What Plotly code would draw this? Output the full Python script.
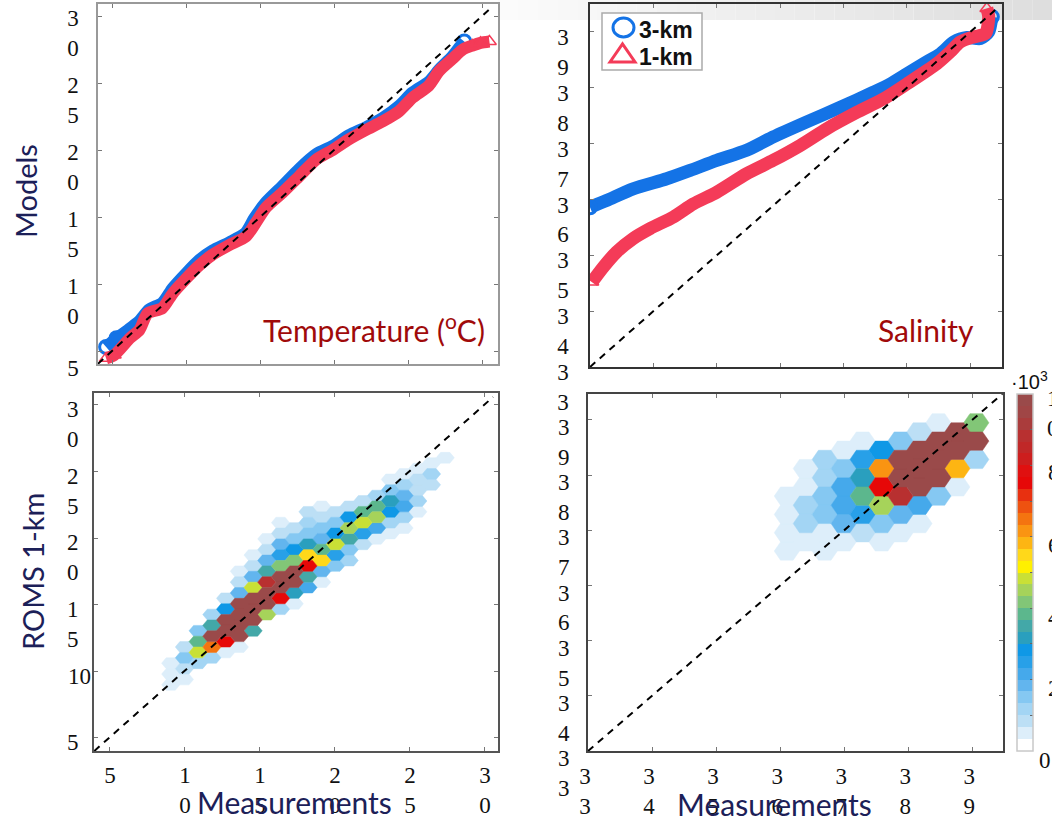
import plotly.graph_objects as go

W, H = 1052, 819

# --- QQ curves, temperature panel
temp_3km_x = [4.6, 5.3, 6.05, 6.85, 7.5, 8.4, 9.1, 10, 10.9, 11.8, 12.9, 14, 14.6, 15.4, 16.5, 17.65, 18.8, 19.9, 21, 22.15, 23.3, 24.4, 25.3, 26.4, 27.1, 28, 28.5, 28.8]
temp_3km_y = [5.3, 5.95, 6.55, 7.25, 8.1, 8.6, 9.7, 10.8, 11.8, 12.5, 13.1, 13.8, 14.9, 16.1, 17.3, 18.6, 19.7, 20.3, 21.1, 21.7, 22.4, 23.3, 24.3, 25.1, 26, 27, 27.7, 28.1]
temp_1km_x = [4.6, 5.15, 6.2, 6.85, 7.4, 8.4, 9.1, 10, 10.9, 11.8, 12.9, 14.05, 14.7, 15.4, 16.5, 17.65, 18.8, 19.9, 21, 22.15, 23.3, 24.4, 25.3, 26.4, 27.1, 28, 28.7, 29.35, 29.9, 30.5]
temp_1km_y = [4.45, 4.7, 5.95, 6.57, 7.8, 8.2, 9.3, 10.4, 11.4, 12.2, 12.9, 13.55, 14.55, 15.7, 16.8, 18.05, 19.3, 20, 20.8, 21.5, 22.15, 22.9, 23.9, 24.8, 25.9, 26.8, 27.5, 27.8, 28, 28.1]

# --- QQ curves, salinity panel
sal_3km_x = [33, 33.26, 33.68, 34.21, 34.58, 35, 35.47, 35.89, 36.42, 36.95, 37.47, 37.74, 38, 38.26, 38.53, 38.74, 38.95, 39.16, 39.29, 39.34]
sal_3km_y = [35.86, 35.98, 36.19, 36.37, 36.52, 36.7, 36.88, 37.12, 37.39, 37.65, 37.92, 38.07, 38.25, 38.43, 38.61, 38.82, 38.9, 38.88, 39, 39.27]
sal_1km_x = [33.03, 33.21, 33.42, 33.68, 33.95, 34.32, 34.63, 35, 35.47, 35.89, 36.32, 36.74, 37.21, 37.63, 38, 38.47, 38.68, 38.84, 39.05, 39.24, 39.29, 39.26]
sal_1km_y = [34.52, 34.79, 35.06, 35.3, 35.48, 35.69, 35.92, 36.13, 36.46, 36.7, 36.97, 37.27, 37.56, 37.8, 38.07, 38.43, 38.64, 38.82, 38.91, 38.97, 39.27, 39.42]

# --- hexbin cells, temperature: column, half-row, count (10^3)
hex_t_col = [0,0,0, 1,1,1,1, 2,2,2,2, 3,3,3,3,3, 4,4,4,4,4,4,
             5,5,5,5,5,5,5,5, 6,6,6,6,6,6,6,6, 7,7,7,7,7,7,7,7,
             8,8,8,8,8,8,8,8,8, 9,9,9,9,9,9,9,9, 10,10,10,10,10,10,10,10,
             11,11,11,11,11,11,11,11, 12,12,12,12,12,12, 13,13,13,13,13,13,
             14,14,14,14,14, 15,15,15,15,15, 16,16,16,16,16,16,
             17,17,17,17,17,17, 18,18,18,18,18, 19,19,19, 20]
hex_t_row = [4,2,0, 7,5,3,1, 10,8,6,4, 13,11,9,7,5, 16,14,12,10,8,6,
             21,19,17,15,13,11,9,7, 24,22,20,18,16,14,12,10, 27,25,23,21,19,17,15,13,
             30,28,26,24,22,20,18,16,14, 29,27,25,23,21,19,17,15, 32,30,28,26,24,22,20,18,
             33,31,29,27,25,23,21,19, 32,30,28,26,24,22, 33,31,29,27,25,23,
             34,32,30,28,26, 35,33,31,29,27, 38,36,34,32,30,28,
             39,37,35,33,31,29, 40,38,36,34,32, 41,39,37, 42]
hex_t_val = [.5,.5,.5, .8,1.5,.8,.5, 1.5,3.8,4.8,1.2, 1.2,3.5,9.9,6.5,1.2, .8,2.8,9.9,9.9,7.5,.5,
             .5,.8,1.8,9.9,9.9,9.9,9.9,.5, .5,.8,1.8,4.8,9.9,9.9,9.9,3.5, .5,.8,1.8,3.5,8.8,9.9,9.9,4.5,
             .5,.8,1.8,2.5,4.2,9.9,9.9,7.5,1.2, .8,1.5,2.8,4.2,9.9,9.9,3.2,.5, .8,1.2,1.5,3.2,5.5,7.5,3.5,2.2,
             .5,.8,1.5,1.8,3.8,5.5,1.8,.5, .8,1.5,2.8,4.8,2.5,1.5, .8,2.8,4.5,3.5,1.5,1.2,
             .8,3.8,4.8,2.5,.8, 1.2,3.8,4.5,2.2,.5, .5,1.5,3.2,2.8,1.2,.5,
             .5,1.2,1.8,2.2,1.2,.5, .5,.8,.8,1.2,.5, .5,1.2,.8, .5]

# --- hexbin cells, salinity
hex_s_col = [0,0,0,0, 1,1,1,1,1, 2,2,2,2,2,2, 3,3,3,3,3,3, 4,4,4,4,4,4, 5,5,5,5,5,5,
             6,6,6,6,6,6, 7,7,7,7,7,7, 8,8,8,8,8, 9,9,9,9, 10,10,10]
hex_s_row = [5,3,1,-1, 8,6,4,2,0, 9,7,5,3,1,-1, 10,8,6,4,2,0, 11,9,7,5,3,1, 10,8,6,4,2,0,
             11,9,7,5,3,1, 12,10,8,6,4,2, 13,11,9,7,5, 12,10,8,6, 13,11,9]
hex_s_val = [.5,.5,.5,.5, .5,.5,1.2,1.2,.5, 1.2,1.2,1.5,1.5,.5,.5, .5,1.5,2.2,2.2,1.8,.5, .5,2.5,3.2,3.8,2.5,.8, 2.8,6.2,7.5,4.5,1.5,.5,
             1.5,9.9,9.9,8.8,1.8,.5, .8,9.9,9.9,9.9,2.2,.5, .5,9.9,9.9,9.9,1.5, 9.9,9.9,5.8,.5, 4.2,9.9,1.2]

# --- colour bar bands, bottom to top
band_colors = ["#ffffff", "#ddeefa", "#bcdff5", "#a3d5f4", "#85c8f2", "#62b5ee", "#45a9eb", "#28a0e8", "#0f98e6", "#2a9fbe",
               "#43a8a8", "#5cb78d", "#82c677", "#a6d35a", "#c9e036", "#fff000", "#ffd81a", "#fdb513", "#fa9412", "#f47410",
               "#ee5210", "#e83010", "#e60808", "#e01010", "#cd1e1e", "#c02828", "#b83030", "#aa3c3c", "#a04646", "#9a4a4a"]
cbar_max = 10

# --- tick labels
t_ticks = [5, 10, 15, 20, 25, 30]
a_labels_y = ["5", "1<br>0", "1<br>5", "2<br>0", "2<br>5", "3<br>0"]
c_labels_y = ["5<br> ", " ", "1<br>5", "2<br>0", "2<br>5", "3<br>0"]
c_labels_x = ["5", "1<br>0", "1<br>5", "2<br>0", "2<br>5", "3<br>0"]
s_ticks = [33, 34, 35, 36, 37, 38, 39]
s_labels = ["3<br>3", "3<br>4", "3<br>5", "3<br>6", "3<br>7", "3<br>8", "3<br>9"]

SERIF = "Liberation Serif"
SANS = "Lato"
NAVY = "#1c2058"
DKRED = "#a00a0a"
BLUE = "#1473e6"
RED = "#f43b58"


def px_x(x):
    return x / W


def px_y(y):
    return 1 - y / H


fig = go.Figure()


def hex_trace(cols, rows, vals, x0, dx, y0, dy, xa, ya):
    """Filled flat-top hexagons grouped by colour band; cells sit on a staggered grid."""
    groups = {}
    for c, k, v in zip(cols, rows, vals):
        idx = min(int(v / cbar_max * len(band_colors)), len(band_colors) - 1)
        groups.setdefault(idx, []).append((x0 + c * dx, y0 + k * dy))
    hw = dx * 2 / 3
    for idx, centers in sorted(groups.items()):
        xs, ys = [], []
        for cx, cy in centers:
            xs += [cx - hw, cx - hw / 2, cx + hw / 2, cx + hw, cx + hw / 2, cx - hw / 2, cx - hw, None]
            ys += [cy, cy + dy, cy + dy, cy, cy - dy, cy - dy, cy, None]
        fig.add_trace(go.Scatter(x=xs, y=ys, xaxis=xa, yaxis=ya, mode="lines", fill="toself",
                                 fillcolor=band_colors[idx], line=dict(color=band_colors[idx], width=0.5),
                                 hoverinfo="skip", showlegend=False))


def qq(x, y, color, symbol, size, lw, width, head, tail, xa, ya, name):
    fig.add_trace(go.Scatter(x=x, y=y, xaxis=xa, yaxis=ya, mode="lines",
                             line=dict(color=color, width=width, shape="spline", smoothing=0.7),
                             hoverinfo="skip", showlegend=False))
    # open symbols stick out of the band only at its two ends
    fig.add_trace(go.Scatter(x=x[:head] + x[-tail:], y=y[:head] + y[-tail:], xaxis=xa, yaxis=ya, mode="markers", name=name,
                             showlegend=False, marker=dict(symbol=symbol, size=size, color=color, line=dict(color=color, width=lw))))


def diag(lo, hi, xa, ya):
    fig.add_trace(go.Scatter(x=[lo, hi], y=[lo, hi], xaxis=xa, yaxis=ya, mode="lines",
                             line=dict(color="black", width=2, dash="7px,6px"), hoverinfo="skip", showlegend=False))


# Panel A
qq(temp_3km_x, temp_3km_y, BLUE, "circle-open", 13, 3, 12, 2, 1, "x", "y", "3-km")
qq(temp_1km_x, temp_1km_y, RED, "triangle-up-open", 12, 1.5, 12, 2, 3, "x", "y", "1-km")
diag(4.05, 30.65, "x", "y")
# Panel B
qq(sal_3km_x, sal_3km_y, BLUE, "circle-open", 13, 3, 13, 1, 1, "x2", "y2", "3-km")
qq(sal_1km_x, sal_1km_y, RED, "triangle-up-open", 12, 1.5, 13, 1, 1, "x2", "y2", "1-km")
diag(33, 39.42, "x2", "y2")
# Panel C
hex_trace(hex_t_col, hex_t_row, hex_t_val, 9.113, 0.915, 8.985, 0.406, "x3", "y3")
diag(4.02, 30.6, "x3", "y3")
# Panel D
hex_trace(hex_s_col, hex_s_row, hex_s_val, 36.105, 0.2958, 36.79, 0.166, "x4", "y4")
diag(33, 39.47, "x4", "y4")

# Colour bar, carried by an invisible trace on the hex centres
n = len(band_colors)
scale = []
for i, c in enumerate(band_colors):
    scale += [[i / n, c], [(i + 1) / n, c]]
fig.add_trace(go.Scatter(
    x=[36.105 + c * 0.2958 for c in hex_s_col], y=[36.79 + k * 0.166 for k in hex_s_row],
    xaxis="x4", yaxis="y4", mode="markers", hoverinfo="skip", showlegend=False,
    marker=dict(size=1, opacity=0, color=hex_s_val, cmin=0, cmax=cbar_max, colorscale=scale, showscale=True,
                colorbar=dict(x=px_x(1017), xanchor="left", xpad=0, ypad=0, y=px_y(394), yanchor="top",
                              thickness=16, thicknessmode="pixels", len=357, lenmode="pixels",
                              outlinecolor="#c8c8c8", outlinewidth=1.5, dtick=1, tick0=0, ticks="inside",
                              ticklen=3, tickcolor="#666666", tickwidth=1, showticklabels=False))))


def axis(dom, rng, color, lw, ticks, labels=None, shift=0, standoff=0):
    d = dict(domain=dom, range=rng, showgrid=False, zeroline=False, showline=True, linecolor=color, linewidth=lw,
             mirror="ticks", ticks="inside", ticklen=4, tickcolor="#777777", tickwidth=1,
             tickvals=ticks, showticklabels=labels is not None, fixedrange=True)
    if labels is not None:
        d.update(ticktext=labels, tickfont=dict(family=SERIF, size=23, color="#111111"),
                 ticklabelshift=shift, ticklabelstandoff=standoff)
    return d


# Pale grey band behind the top of the figure, fading in from the left
shapes = []
steps = 28
for i in range(steps):
    t0, t1 = i / steps, (i + 1) / steps
    level = round(0xfb - (0xfb - 0xdd) * t0)
    shapes.append(dict(type="rect", xref="paper", yref="paper", x0=px_x(498 + (W - 498) * t0), x1=px_x(498 + (W - 498) * t1),
                       y0=px_y(20), y1=1, fillcolor=f"rgb({level},{level},{level})", line=dict(width=0), layer="below"))

# Key for the two QQ series, inside the salinity panel
shapes += [
    dict(type="rect", xref="paper", yref="paper", x0=px_x(602), x1=px_x(702), y0=px_y(70), y1=px_y(13),
         fillcolor="white", line=dict(color="#aaaaaa", width=1.5), layer="above"),
    dict(type="circle", xref="paper", yref="paper", x0=px_x(613), x1=px_x(634), y0=px_y(37), y1=px_y(18),
         line=dict(color=BLUE, width=3), layer="above"),
    dict(type="path", xref="paper", yref="paper",
         path=f"M {px_x(610)} {px_y(62)} L {px_x(622.5)} {px_y(44)} L {px_x(635)} {px_y(62)} Z",
         line=dict(color=RED, width=3), layer="above"),
]


def note(text, x, y, size, color, family=SANS, xanchor="center", angle=0):
    return dict(text=text, xref="paper", yref="paper", x=px_x(x), y=px_y(y), xanchor=xanchor, yanchor="middle",
                showarrow=False, textangle=angle, font=dict(family=family, size=size, color=color))


annotations = [
    note("Temperature (<sup>o</sup>C)", 374, 328, 30, DKRED),
    note("Salinity", 926, 330, 30, DKRED),
    note("Models", 25, 191, 29, NAVY, angle=-90),
    note("ROMS 1-km", 32, 572, 29, NAVY, angle=-90),
    note("Measurements", 294, 802, 30, NAVY),
    note("Measurements", 774, 804, 30, NAVY),
    note("<b>3-km</b>", 637, 30, 23, "#111111", family="Liberation Sans", xanchor="left"),
    note("<b>1-km</b>", 637, 57, 23, "#111111", family="Liberation Sans", xanchor="left"),
    note("10", 79, 676, 23, "#111111", family=SERIF),
    note("·10<sup>3</sup>", 1029, 380, 20, "#111111", family="Liberation Sans"),
    note("1<br>0", 1045, 413, 23, "#111111", family=SERIF, xanchor="left"),
    note("8", 1046, 473, 23, "#111111", family=SERIF, xanchor="left"),
    note("6", 1046, 545, 23, "#111111", family=SERIF, xanchor="left"),
    note("4", 1046, 617, 23, "#111111", family=SERIF, xanchor="left"),
    note("2", 1046, 688, 23, "#111111", family=SERIF, xanchor="left"),
    note("0", 1037, 760, 23, "#111111", family=SERIF, xanchor="left"),
]

fig.update_layout(
    width=W, height=H, autosize=False, margin=dict(l=0, r=0, t=0, b=0, autoexpand=False),
    paper_bgcolor="white", plot_bgcolor="white", shapes=shapes, annotations=annotations, showlegend=False,
    xaxis=dict(axis([px_x(98), px_x(498)], [4.05, 31.08], "#999999", 1.5, t_ticks), anchor="y"),
    yaxis=axis([px_y(364), px_y(4)], [4.03, 30.9], "#999999", 1.5, t_ticks, a_labels_y, 17, 13),
    xaxis2=dict(axis([px_x(590), px_x(1002)], [33, 39.5], "#333333", 1.5, s_ticks), anchor="y2"),
    yaxis2=dict(axis([px_y(367), px_y(4)], [33, 39.5], "#333333", 1.5, s_ticks, s_labels, 20, 15), anchor="x2"),
    xaxis3=dict(axis([px_x(94), px_x(498)], [4, 30.93], "#555555", 2, t_ticks, c_labels_x, 1, 2), anchor="y3"),
    yaxis3=dict(axis([px_y(751), px_y(393)], [4.02, 30.9], "#555555", 2, t_ticks, c_labels_y, 19, 9), anchor="x3"),
    xaxis4=dict(axis([px_x(588), px_x(1003)], [33, 39.48], "#444444", 2, s_ticks, s_labels, -3, 3), anchor="y4"),
    yaxis4=dict(axis([px_y(751), px_y(394)], [33, 39.47], "#444444", 2, s_ticks, s_labels, 22, 12), anchor="x4"),
)

fig.write_html("out.html", config=dict(displayModeBar=False),
               post_script="document.body.style.margin='0';document.body.style.overflow='hidden';")
